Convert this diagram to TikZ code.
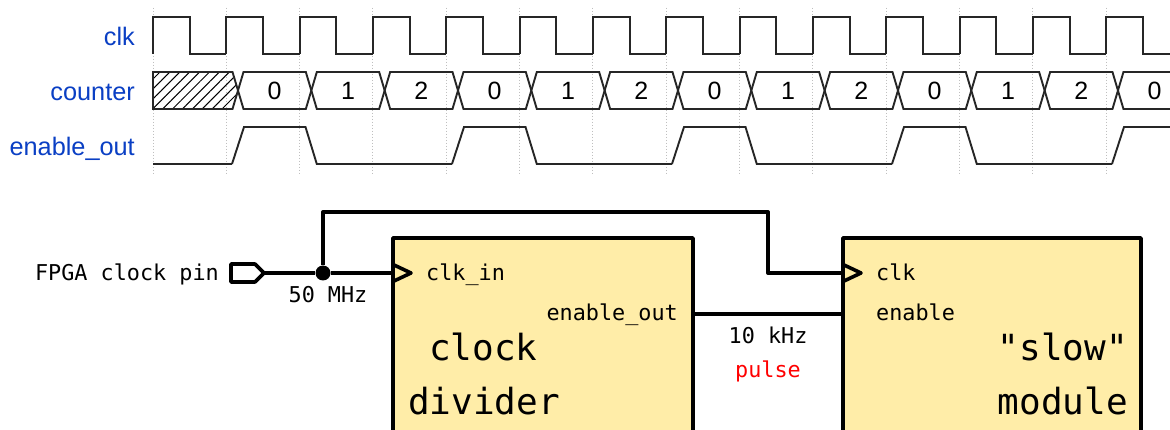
\documentclass[tikz,border=0pt]{standalone}
\usepackage{fontspec}
\setmainfont{Liberation Sans}
\newfontfamily\wirefont{DejaVu Sans Mono}
\usetikzlibrary{patterns.meta}
\definecolor{boxfill}{HTML}{FFEDA8}
\definecolor{sigblue}{HTML}{0A3FC4}
\tikzset{
  wave/.style={line width=1.9pt,draw=black!85,line join=miter},
  griddot/.style={line width=1pt,draw=black!25,dotted},
  wire/.style={line width=4pt,draw=black,line join=round},
  block/.style={draw=black,line width=3.6pt,fill=boxfill,line join=round,minimum width=298pt,minimum height=234pt,anchor=north west,inner sep=0pt,outer sep=0pt},
  signame/.style={anchor=base east,inner sep=0pt,text=sigblue,font=\fontsize{25.3}{25}\selectfont},
  digit/.style={anchor=base,inner sep=0pt,font=\fontsize{25}{25}\selectfont},
  small/.style={inner sep=0pt,font=\wirefont\fontsize{21.8}{22}\selectfont},
  big/.style={inner sep=0pt,font=\wirefont\fontsize{36}{36}\selectfont},
}
\begin{document}
\begin{tikzpicture}[x=1pt,y=-1pt]
        \clip (0,0) rectangle (1170,430);
        \fill[white] (0,0) rectangle (1170,430);
        % timing part
        \foreach \k in {0,...,13} \draw[griddot] ({153+\k*73.33},8) -- ({153+\k*73.33},174);
        \foreach \k in {0,...,13} \draw[wave] ({153+\k*73.33},54) -- ++(0,-37) -- ++(36.67,0) -- ++(0,37) -- ++(36.67,0);
        \node[signame] (clklabel) at (135,46) {clk};
        \node[signame] (counterlabel) at (135,101) {counter};
        \node[signame] (enablelabel) at (135,156) {enable\_out};
        \draw[wave,pattern={Lines[angle=45,distance=7pt,line width=1pt]}] (153,72) -- (232.5,72) -- (238,90.5) -- (232.5,109) -- (153,109) -- cycle;
        \foreach \k/\v in {0/0,1/1,2/2,3/0,4/1,5/2,6/0,7/1,8/2,9/0,10/1,11/2,12/0} {
            \draw[wave] ({238+\k*73.33},90.5) -- ++(5.5,-18.5) -- ++(62.33,0) -- ++(5.5,18.5) -- ++(-5.5,18.5) -- ++(-62.33,0) -- cycle;
            \node[digit] (count\k) at ({274.67+\k*73.33},100) {\v};
        }
        \draw[wave] (153,164) -- (232,164);
        \foreach \k in {0,...,4} \draw[wave] ({232+\k*220},164) -- ++(12,-37) -- ++(61.5,0) -- ++(11.3,37) -- ++(135.2,0);
        % block part
        \node[block,minimum width=300pt] (divider) at (393,238) {};
        \node[block] (slow) at (843,238) {};
        \node[small,anchor=base east] (pinlabel) at (219,281) {FPGA clock pin};
        \node[small,anchor=base] (fastlabel) at (328,303) {50 MHz};
        \node[small,anchor=base west] (clkin) at (426,281) {clk\_in};
        \node[small,anchor=base east] (enableout) at (678,320) {enable\_out};
        \node[big,anchor=base west] (clocktext) at (429,360) {clock};
        \node[big,anchor=base west] (dividertext) at (408,414) {divider};
        \node[small,anchor=base west] (clkslow) at (876,281) {clk};
        \node[small,anchor=base west] (enablein) at (876,320) {enable};
        \node[big,anchor=base east] (slowtext) at (1128,360) {"slow"};
        \node[big,anchor=base east] (moduletext) at (1128,414) {module};
        \node[small,anchor=base] (ratelabel) at (768,344) {10 kHz};
        \node[small,anchor=base,text=red] (pulselabel) at (768,377) {pulse};
        \node[circle,fill=black,inner sep=0pt,minimum size=15pt] (tap) at (323,273) {};
        % pin and wires
        \coordinate (pin) at (264,273);
        \coordinate (portA) at (393,273);
        \coordinate (portB) at (843,273);
        \coordinate (outA) at (693,314);
        \coordinate (inB) at (843,314);
        \draw[wire,line width=3.6pt] (pin) -- ++(-9,-9) -- ++(-24,0) -- ++(0,18) -- ++(24,0) -- cycle;
        \draw[wire] (pin) -- (tap);
        \draw[wire] (tap) -- (portA);
        \draw[wire] (tap) |- (768,212) |- (portB);
        \draw[wire] (outA) -- (inB);
        \draw[wire,line width=3.6pt] (portA) ++(0,-8.5) -- ++(18,8.5) -- ++(-18,8.5);
        \draw[wire,line width=3.6pt] (portB) ++(0,-8.5) -- ++(18,8.5) -- ++(-18,8.5);
    \end{tikzpicture}
\end{document}
